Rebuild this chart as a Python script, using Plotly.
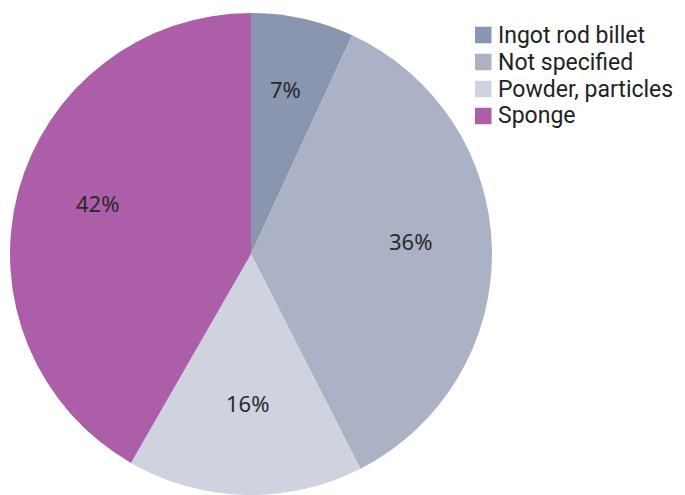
import math
import plotly.graph_objects as go

labels = ["Ingot rod billet", "Not specified", "Powder, particles", "Sponge"]
values = [6.9, 35.6, 15.8, 41.7]
colors = ["#8a95b0", "#abb2c5", "#cfd3df", "#ad5ea8"]

W, H = 685, 495
# pie geometry in pixels
cx, cy, R = 251, 254, 241

fig = go.Figure(go.Pie(
    labels=labels,
    values=values,
    sort=False,
    direction="clockwise",
    rotation=0,
    marker=dict(colors=colors, line=dict(width=0)),
    textinfo="none",
    domain=dict(x=[(cx - R) / W, (cx + R) / W], y=[(H - cy - R) / H, (H - cy + R) / H]),
    hoverinfo="label+percent",
    showlegend=False,
))

# percentage labels placed along each slice's mid-angle (baseline-anchored)
total = sum(values)
cum = 0.0
annotations = []
for v in values:
    mid = (cum + v / 2) / total * 2 * math.pi
    cum += v
    px = cx + 0.66 * R * math.sin(mid)
    py = cy - 0.66 * R * math.cos(mid) - 10
    annotations.append(dict(
        x=px / W, y=1 - py / H, xref="paper", yref="paper",
        text=f"{round(v / total * 100)}%", showarrow=False,
        font=dict(family="Noto Sans", size=22, color="#2a2a2a"),
        xanchor="center", yanchor="middle",
    ))

# legend: coloured squares + labels
shapes = []
lx, ly0, dy, sq = 475, 35, 27, 16.5
for i, (lab, col) in enumerate(zip(labels, colors)):
    yc = ly0 + i * dy
    shapes.append(dict(
        type="rect", xref="paper", yref="paper",
        x0=lx / W, x1=(lx + sq) / W,
        y0=1 - (yc + sq / 2) / H, y1=1 - (yc - sq / 2) / H,
        fillcolor=col, line=dict(width=0),
    ))
    annotations.append(dict(
        x=(lx + 22) / W, y=1 - yc / H, xref="paper", yref="paper",
        text=lab, showarrow=False,
        font=dict(family="Roboto", size=23, color="#222222"),
        xanchor="left", yanchor="middle", borderpad=0,
    ))

fig.update_layout(
    width=W, height=H,
    margin=dict(l=0, r=0, t=0, b=0),
    paper_bgcolor="white",
    plot_bgcolor="white",
    annotations=annotations,
    shapes=shapes,
    showlegend=False,
)

fig.write_html("out.html")
